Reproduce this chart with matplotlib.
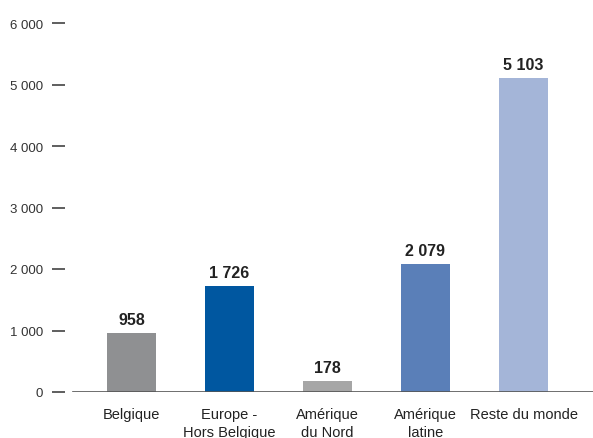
import matplotlib
matplotlib.use('Agg')
import matplotlib.pyplot as plt
from matplotlib.ticker import FuncFormatter

plt.rcParams['font.family'] = ['Liberation Sans', 'DejaVu Sans']

categories = ['Belgique', 'Europe -\nHors Belgique', 'Amérique\ndu Nord',
              'Amérique\nlatine', 'Reste du monde']
values = [958, 1726, 178, 2079, 5103]
colors = ['#8f9092', '#0057a0', '#a6a6a6', '#5a7fb8', '#a4b5d8']
yticks = [0, 1000, 2000, 3000, 4000, 5000, 6000]


def fmt(v, pos=None):
    return f"{int(v):,}".replace(",", " ")


W, H = 593, 439
fig = plt.figure(figsize=(W / 100, H / 100), dpi=100)
# axes box in pixels: left 65, right 593, bottom 393, top 24
ax = fig.add_axes([65 / W, 46 / H, (593 - 65) / W, (393 - 24) / H])

x = list(range(len(categories)))
ax.bar(x, values, width=0.5, color=colors, zorder=2)

for xi, v in zip(x, values):
    ax.text(xi, v + 95, fmt(v), ha='center', va='bottom',
            fontsize=11.5, fontweight='bold', color='#222222')

# x range: bar centers spaced 98 px, first center at 131.5 px
ax.set_xlim((65 - 131.5) / 98, (593 - 131.5) / 98)
ax.set_ylim(0, 6000)

for s in ['top', 'right', 'left', 'bottom']:
    ax.spines[s].set_visible(False)
ax.axhline(0, xmin=(73 - 65) / (593 - 65), xmax=1, color='#555555',
           lw=1.2, zorder=3)

ax.set_yticks(yticks)
ax.yaxis.set_major_formatter(FuncFormatter(fmt))
ax.tick_params(axis='y', direction='out', length=9.5, width=1.1,
               color='#333333', pad=6.5, labelsize=9.5, labelcolor='#333333')
ax.set_xticks(x)
ax.set_xticklabels(categories, fontsize=10.5, color='#222222', linespacing=1.3)
ax.tick_params(axis='x', length=0, pad=11)

fig.savefig('out.png', dpi=100)
